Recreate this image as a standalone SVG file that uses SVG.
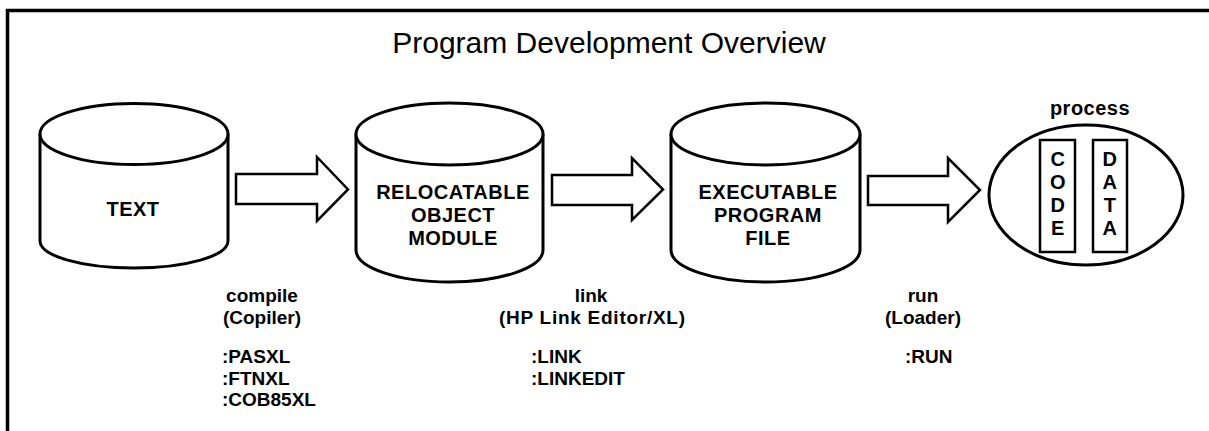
<svg xmlns="http://www.w3.org/2000/svg" width="1209" height="431" viewBox="0 0 1209 431">
  <style>
    .frame { fill: none; stroke: #000; stroke-width: 3.5; }
    .cyl { fill: #fff; stroke: #000; stroke-width: 3; stroke-linejoin: round; }
    .arrow { fill: #fff; stroke: #000; stroke-width: 2.5; stroke-linejoin: miter; }
    .box { fill: #fff; stroke: #000; stroke-width: 2.5; }
    .title { font-family: "Liberation Sans", Arial, sans-serif; font-size: 30px; fill: #000; text-anchor: middle; }
    .lbl { font-family: "Liberation Sans", Arial, sans-serif; font-size: 20px; font-weight: bold; fill: #000; text-anchor: middle; letter-spacing: 0.5px; }
    .note { font-family: "Liberation Sans", Arial, sans-serif; font-size: 19px; font-weight: bold; fill: #000; }
    .mid { text-anchor: middle; }
  </style>

  <!-- page frame: top rule and left rule -->
  <path class="frame" d="M1209,10.5 H7.5 V431"/>

  <text class="title" x="609" y="53">Program Development Overview</text>

  <!-- source text file -->
  <g id="text-file">
    <path class="cyl" d="M40,134 V241 A94,27 0 0 0 228,241 V134"/>
    <ellipse class="cyl" cx="134" cy="134" rx="94" ry="30.5"/>
    <text class="lbl" x="133" y="216">TEXT</text>
  </g>

  <!-- relocatable object module -->
  <g id="object-module">
    <path class="cyl" d="M356,134 V250 A93.5,32 0 0 0 543,250 V134"/>
    <ellipse class="cyl" cx="449.5" cy="134" rx="93.5" ry="31"/>
    <text class="lbl" x="453" y="199">RELOCATABLE</text>
    <text class="lbl" x="453" y="222">OBJECT</text>
    <text class="lbl" x="453" y="245">MODULE</text>
  </g>

  <!-- executable program file -->
  <g id="program-file">
    <path class="cyl" d="M671,134 V250 A94.5,32 0 0 0 860,250 V134"/>
    <ellipse class="cyl" cx="765.5" cy="134" rx="94.5" ry="31"/>
    <text class="lbl" x="768" y="199">EXECUTABLE</text>
    <text class="lbl" x="768" y="222">PROGRAM</text>
    <text class="lbl" x="768" y="245">FILE</text>
  </g>

  <!-- running process -->
  <g id="process">
    <text class="lbl" x="1090" y="115">process</text>
    <ellipse class="cyl" cx="1086" cy="195" rx="97" ry="70"/>
    <rect class="box" x="1040" y="140" width="35" height="112"/>
    <rect class="box" x="1093" y="140" width="34" height="112"/>
    <text class="lbl" x="1058" y="166">C</text>
    <text class="lbl" x="1058" y="189">O</text>
    <text class="lbl" x="1058" y="212">D</text>
    <text class="lbl" x="1058" y="235">E</text>
    <text class="lbl" x="1110" y="166">D</text>
    <text class="lbl" x="1110" y="189">A</text>
    <text class="lbl" x="1110" y="212">T</text>
    <text class="lbl" x="1110" y="235">A</text>
  </g>

  <!-- block arrows between stages -->
  <g id="connectors">
    <path class="arrow" d="M236,174 H317 V157 L348,189.5 L317,221 V204 H236 Z"/>
    <path class="arrow" d="M552,175 H632 V158 L663,189.5 L632,220 V205 H552 Z"/>
    <path class="arrow" d="M868,176 H948 V158 L980,190 L948,222 V205 H868 Z"/>
  </g>

  <!-- step captions -->
  <g id="compile-step">
    <text class="note mid" x="262" y="302">compile</text>
    <text class="note mid" x="262" y="324">(Copiler)</text>
    <text class="note" x="222" y="363">:PASXL</text>
    <text class="note" x="222" y="385">:FTNXL</text>
    <text class="note" x="222" y="406">:COB85XL</text>
  </g>
  <g id="link-step">
    <text class="note mid" x="591" y="302">link</text>
    <text class="note mid" x="592" y="324" textLength="186" lengthAdjust="spacing">(HP Link Editor/XL)</text>
    <text class="note" x="531" y="363">:LINK</text>
    <text class="note" x="531" y="385">:LINKEDIT</text>
  </g>
  <g id="run-step">
    <text class="note mid" x="923" y="302">run</text>
    <text class="note mid" x="923" y="324">(Loader)</text>
    <text class="note" x="905" y="363">:RUN</text>
  </g>
</svg>
